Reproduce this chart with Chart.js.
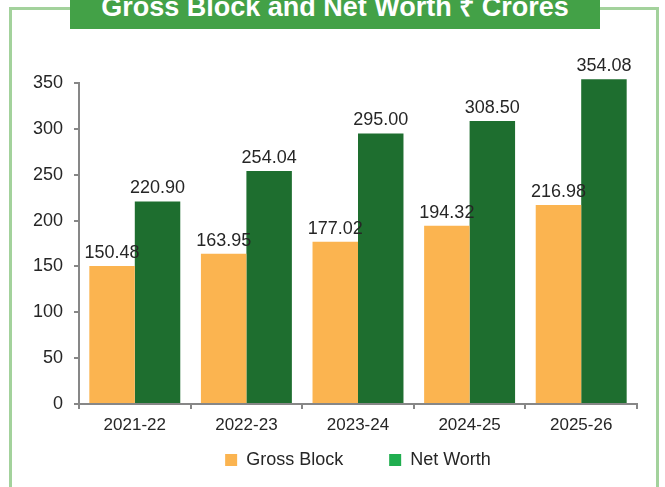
<!DOCTYPE html>
<html>
<head>
<meta charset="utf-8">
<script src="https://cdn.jsdelivr.net/npm/chart.js@4.4.1/dist/chart.umd.min.js"></script>
<style>
  html, body { margin: 0; padding: 0; background: #fff; }
  #wrap { position: relative; width: 665px; height: 487px; overflow: hidden; }
  #frame { position: absolute; left: 9px; top: 7px; width: 650px; height: 600px;
           box-sizing: border-box; border: 3px solid #a3d29c; }
  #banner { position: absolute; left: 70px; top: 0; width: 530px; height: 29px; background: #43a147; overflow: hidden; }
  #banner span { position: absolute; left: 0; right: 0; top: -6px; text-align: center; color: #fff;
                 font: bold 27px 'Liberation Sans', Arial, sans-serif; line-height: 27px; white-space: nowrap; }
  canvas { position: absolute; left: 0; top: 0; }
</style>
</head>
<body>
<div id="wrap">
  <div id="frame"></div>
  <canvas id="chart" width="665" height="487"></canvas>
  <div id="banner"><span>Gross Block and Net Worth ₹ Crores</span></div>
</div>
<script>
// ===== DATA =====
const years = ['2021-22', '2022-23', '2023-24', '2024-25', '2025-26'];
const grossBlock = [150.48, 163.95, 177.02, 194.32, 216.98];
const netWorth = [220.90, 254.04, 295.00, 308.50, 354.08];
const yTicks = [0, 50, 100, 150, 200, 250, 300, 350];

const FONT = "'Liberation Sans', Arial, sans-serif";
const TEXT = '#262626';
const AXIS = '#878787';

// value labels above the bars
const valueLabels = {
  id: 'valueLabels',
  afterDatasetsDraw(chart) {
    const ctx = chart.ctx;
    ctx.save();
    ctx.font = '18px ' + FONT;
    ctx.fillStyle = TEXT;
    ctx.textAlign = 'center';
    ctx.textBaseline = 'alphabetic';
    chart.data.datasets.forEach((ds, i) => {
      chart.getDatasetMeta(i).data.forEach((bar, j) => {
        ctx.fillText(ds.data[j].toFixed(2), bar.x, bar.y - 8);
      });
    });
    ctx.restore();
  }
};

Chart.defaults.font.family = FONT;
Chart.defaults.color = TEXT;

new Chart(document.getElementById('chart'), {
  type: 'bar',
  data: {
    labels: years,
    datasets: [
      { label: 'Gross Block', data: grossBlock, backgroundColor: '#fbb450', legendColor: '#fbb450', clip: false },
      { label: 'Net Worth', data: netWorth, backgroundColor: '#1e6e2f', legendColor: '#20ae4f', clip: false }
    ]
  },
  options: {
    responsive: false,
    animation: false,
    datasets: { bar: { categoryPercentage: 0.815, barPercentage: 1.0 } },
    layout: { padding: { left: 0, right: 28, top: 83, bottom: 8 } },
    plugins: {
      tooltip: { enabled: false },
      legend: {
        position: 'bottom',
        fullSize: false,
        labels: {
          boxWidth: 12,
          boxHeight: 12,
          padding: 46,
          font: { size: 18 },
          color: TEXT,
          generateLabels(chart) {
            const items = Chart.defaults.plugins.legend.labels.generateLabels(chart);
            items.forEach(it => {
              const c = chart.data.datasets[it.datasetIndex].legendColor;
              it.fillStyle = c;
              it.strokeStyle = c;
              it.lineWidth = 0;
            });
            return items;
          }
        }
      }
    },
    scales: {
      x: {
        grid: { display: true, drawOnChartArea: false, drawTicks: true, tickLength: 5, color: AXIS, lineWidth: 2, offset: true },
        border: { display: true, color: AXIS, width: 2 },
        ticks: { font: { size: 17 }, color: TEXT, padding: 6 },
        afterFit(scale) {
          // the legend sits close under the axis, so let the labels draw outside the thin axis box
          scale.height = 1;
          scale._computeLabelArea = () => undefined;
        }
      },
      y: {
        min: 0,
        max: 350,
        afterBuildTicks(scale) { scale.ticks = yTicks.map(v => ({ value: v })); },
        grid: { display: true, drawOnChartArea: false, drawTicks: true, tickLength: 5, color: AXIS, lineWidth: 2 },
        border: { display: true, color: AXIS, width: 2 },
        ticks: { font: { size: 18 }, color: TEXT, padding: 11 },
        afterFit(scale) { scale.width = 79; }
      }
    }
  },
  plugins: [valueLabels]
});
</script>
</body>
</html>
